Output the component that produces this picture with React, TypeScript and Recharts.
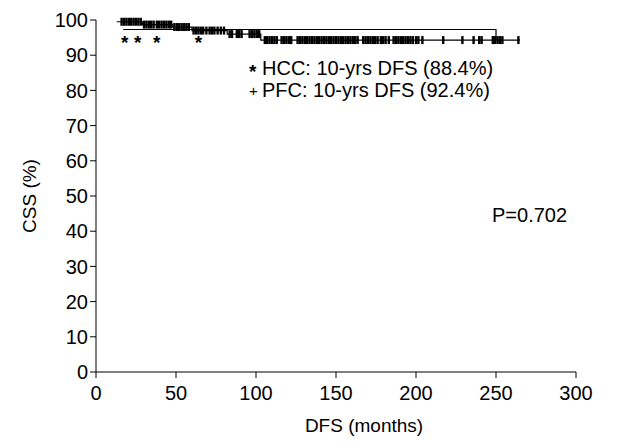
import React from 'react'
import {
  ComposedChart,
  Line,
  Scatter,
  XAxis,
  YAxis,
  Label,
} from 'recharts'

// Kaplan-Meier step points (months, survival %)
const PFC_TIMES = [13, 29, 48, 60, 82, 103, 265]
const PFC_SURV = [99.5, 98.7, 98.0, 97.0, 96.0, 94.3, 94.3]

const HCC_TIMES = [17, 250, 250]
const HCC_SURV = [97.3, 97.3, 94.3]

// censored cases (months)
const PFC_CENSOR = [
  16, 17.5, 19, 20.5, 22, 23.5, 25, 26.5, 28,
  30, 31.5, 33, 34.5, 36, 38, 39.5, 41, 42.5, 44, 45.5, 47,
  49, 50.5, 52, 53.5, 55, 56.5, 58,
  61, 62.5, 64, 65.5, 67, 69, 71, 72.5, 74, 76, 78, 80,
  83.5, 85, 88, 89.5, 91, 96, 97.5, 99, 100.5, 102,
  105.5, 107, 108.5, 110, 111.5, 113, 116, 117.5, 119, 120.5, 122,
  126, 127.5, 129, 130.5, 132, 133.5, 135, 136.5, 138, 139.5, 141, 142.5,
  144, 145.5, 147, 148.5, 150, 151.5, 153, 154.5, 156, 157.5, 159, 160.5,
  162, 163.5, 167, 168.5, 170, 171.5, 173, 174.5, 176, 178, 179.5, 181, 183,
  186, 187.5, 189, 190.5, 192, 193.5, 195, 196.5, 198, 200, 201.5, 204,
  217, 229, 236, 239.5, 241, 248, 249.5, 251, 252.5, 254, 264,
]
const HCC_CENSOR = [18, 26, 38, 64]
const HCC_CENSOR_Y = 94.0

const X_TICKS = [0, 50, 100, 150, 200, 250, 300]
const Y_TICKS = [0, 10, 20, 30, 40, 50, 60, 70, 80, 90, 100]

const FONT = 'Liberation Sans, Arial, sans-serif'

const survAt = (times: number[], surv: number[], t: number) => {
  let v = surv[0]
  for (let i = 0; i < times.length; i++) if (t >= times[i]) v = surv[i]
  return v
}

const pfcLine = PFC_TIMES.map((m, i) => ({ m, v: PFC_SURV[i] }))
const hccLine = HCC_TIMES.map((m, i) => ({ m, v: HCC_SURV[i] }))
const pfcMarks = PFC_CENSOR.map((m) => ({ m, v: survAt(PFC_TIMES, PFC_SURV, m) }))
const hccMarks = HCC_CENSOR.map((m) => ({ m, v: HCC_CENSOR_Y }))

const TickMark = (props: any) => {
  const { cx, cy } = props
  return <line x1={cx} x2={cx} y1={cy - 4} y2={cy + 4} stroke="#000" strokeWidth={2.4} />
}

const StarMark = (props: any) => {
  const { cx, cy } = props
  return (
    <text x={cx} y={cy + 8} textAnchor="middle" fontSize={19} fontWeight="bold" fontFamily={FONT} fill="#000">
      *
    </text>
  )
}

const XTick = (props: any) => {
  const { x, y, payload } = props
  return (
    <text x={x} y={y + 20} textAnchor="middle" fontSize={20} fontFamily={FONT} fill="#000">
      {payload.value}
    </text>
  )
}

export default function App() {
  return (
    <div style={{ position: 'absolute', left: 0, top: 0, background: '#fff' }}>
      <ComposedChart
        width={624}
        height={442}
        margin={{ top: 20, right: 48, bottom: 0, left: 36 }}
      >
        <XAxis
          type="number"
          dataKey="m"
          domain={[0, 300]}
          ticks={X_TICKS}
          height={70}
          stroke="#000"
          tickSize={6}
          tick={<XTick />}
          allowDuplicatedCategory={false}
        />
        <YAxis
          type="number"
          dataKey="v"
          domain={[0, 100]}
          ticks={Y_TICKS}
          width={60}
          stroke="#000"
          tickSize={6}
          tick={{ fill: '#000', fontSize: 20, fontFamily: FONT }}
        >
          <Label
            value="CSS (%)"
            angle={-90}
            position="insideLeft"
            offset={-7}
            style={{ fill: '#000', fontSize: 19, fontFamily: FONT, textAnchor: 'middle' }}
          />
        </YAxis>
        <Line
          data={hccLine}
          dataKey="v"
          type="linear"
          stroke="#000"
          strokeWidth={1.2}
          dot={false}
          isAnimationActive={false}
        />
        <Line
          data={pfcLine}
          dataKey="v"
          type="stepAfter"
          stroke="#000"
          strokeWidth={1.2}
          dot={false}
          isAnimationActive={false}
        />
        <Scatter data={pfcMarks} dataKey="v" shape={TickMark} isAnimationActive={false} />
        <Scatter data={hccMarks} dataKey="v" shape={StarMark} isAnimationActive={false} />
        <text x={364} y={432} textAnchor="middle" fontSize={19} fontFamily={FONT} fill="#000">DFS (months)</text>
        <text x={249} y={78} fontSize={19} fontWeight="bold" fontFamily={FONT} fill="#000">*</text>
        <text x={262} y={75} fontSize={20} fontFamily={FONT} fill="#000">HCC: 10-yrs DFS (88.4%)</text>
        <text x={249} y={96} fontSize={15} fontFamily={FONT} fill="#000">+</text>
        <text x={262} y={97} fontSize={20} fontFamily={FONT} fill="#000">PFC: 10-yrs DFS (92.4%)</text>
        <text x={492} y={222} fontSize={20} fontFamily={FONT} fill="#000">P=0.702</text>
      </ComposedChart>
    </div>
  )
}
